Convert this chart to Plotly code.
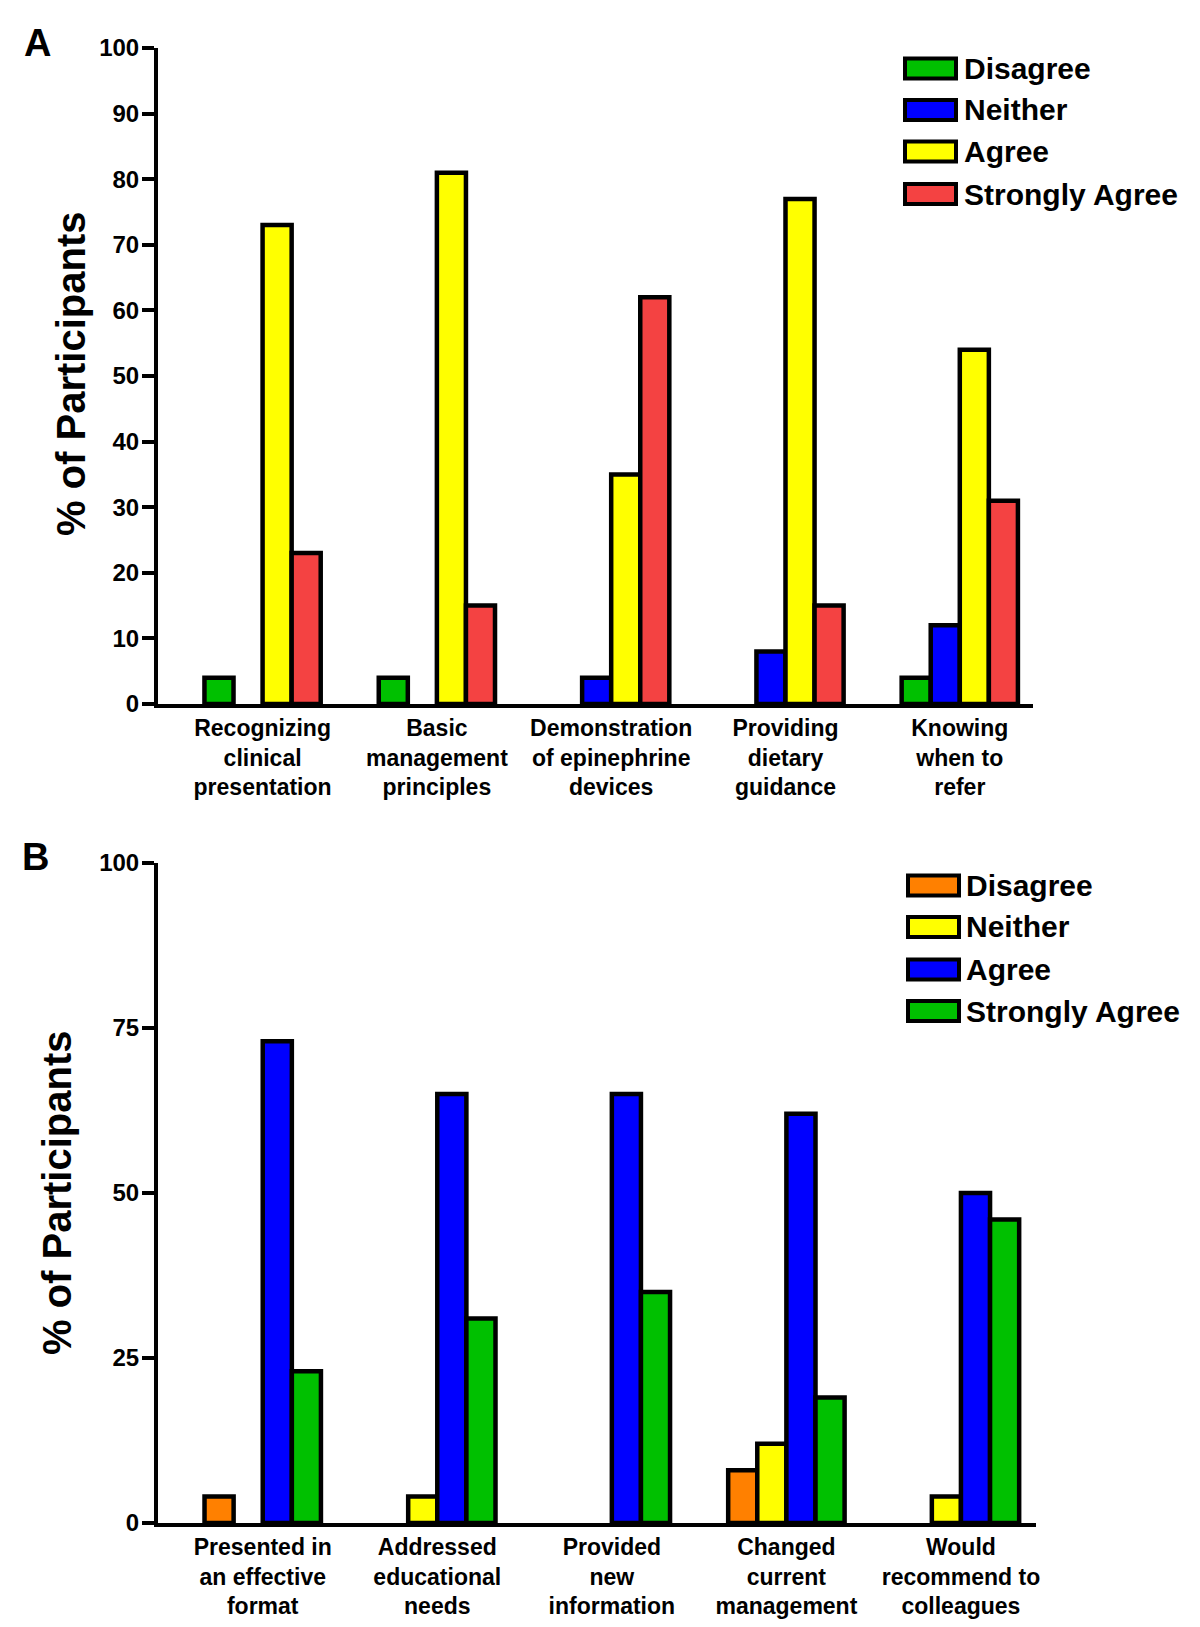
import plotly.graph_objects as go

# ---------------- data ----------------
cats_a = ["Recognizing<br>clinical<br>presentation", "Basic<br>management<br>principles",
          "Demonstration<br>of epinephrine<br>devices", "Providing<br>dietary<br>guidance",
          "Knowing<br>when to<br>refer"]
series_a = ["Disagree", "Neither", "Agree", "Strongly Agree"]
disagree_a = [4, 4, 0, 0, 4]
neither_a = [0, 0, 4, 8, 12]
agree_a = [73, 81, 35, 77, 54]
strongly_a = [23, 15, 62, 15, 31]
colors_a = ["#00C000", "#0000FF", "#FFFF00", "#F44242"]

cats_b = ["Presented in<br>an effective<br>format", "Addressed<br>educational<br>needs",
          "Provided<br>new<br>information", "Changed<br>current<br>management",
          "Would<br>recommend to<br>colleagues"]
series_b = ["Disagree", "Neither", "Agree", "Strongly Agree"]
disagree_b = [4, 0, 0, 8, 0]
neither_b = [0, 4, 0, 12, 4]
agree_b = [73, 65, 65, 62, 50]
strongly_b = [23, 31, 35, 19, 46]
colors_b = ["#FF8000", "#FFFF00", "#0000FF", "#00C000"]

yticks_a = [0, 10, 20, 30, 40, 50, 60, 70, 80, 90, 100]
yticks_b = [0, 25, 50, 75, 100]

# ---------------- figure ----------------
W, H = 1200, 1627
FONT = "Liberation Sans, Arial, sans-serif"


def px(x):
    return x / W


def py(y):
    return 1 - y / H


def nz(vals):
    # zero-height bars are not drawn in the reference
    return [v if v != 0 else None for v in vals]


fig = go.Figure()

vals_a = [disagree_a, neither_a, agree_a, strongly_a]
vals_b = [disagree_b, neither_b, agree_b, strongly_b]
for name, v, c in zip(series_a, vals_a, colors_a):
    fig.add_trace(go.Bar(x=list(range(len(cats_a))), y=nz(v), name=name, xaxis="x", yaxis="y",
                         marker=dict(color=c, line=dict(color="black", width=4.5)),
                         showlegend=False))
for name, v, c in zip(series_b, vals_b, colors_b):
    fig.add_trace(go.Bar(x=list(range(len(cats_b))), y=nz(v), name=name, xaxis="x2", yaxis="y2",
                         marker=dict(color=c, line=dict(color="black", width=4.5)),
                         showlegend=False))

xcommon = dict(showline=True, linecolor="black", linewidth=4, ticks="", showgrid=False,
               zeroline=False, tickmode="array", automargin=False,
               tickfont=dict(family=FONT, size=23, color="black", weight="bold"))
ycommon = dict(showline=True, linecolor="black", linewidth=4, ticks="outside", ticklen=12,
               tickwidth=4, tickcolor="black", showgrid=False, zeroline=False,
               range=[0, 100], tickmode="array", automargin=False, ticklabelstandoff=-2,
               tickfont=dict(family=FONT, size=24, color="black", weight="bold"))

fig.update_layout(
    width=W, height=H, margin=dict(l=0, r=0, t=0, b=0, autoexpand=False),
    paper_bgcolor="white", plot_bgcolor="white",
    barmode="group", bargap=0.333, bargroupgap=0,
    xaxis=dict(**xcommon, domain=[px(158), px(1033)], range=[-0.6, 4.42], anchor="y",
               tickvals=list(range(len(cats_a))), ticktext=cats_a),
    yaxis=dict(**ycommon, domain=[py(704), py(48)], anchor="x",
               tickvals=yticks_a, ticktext=[str(t) for t in yticks_a]),
    xaxis2=dict(**xcommon, domain=[px(158), px(1036)], range=[-0.6, 4.43], anchor="y2",
                tickvals=list(range(len(cats_b))), ticktext=cats_b),
    yaxis2=dict(**ycommon, domain=[py(1523), py(863)], anchor="x2",
                tickvals=yticks_b, ticktext=[str(t) for t in yticks_b]),
)

annotations = []
shapes = []


def text(t, x, y, size, angle=0, xanchor="center"):
    annotations.append(dict(text=t, x=px(x), y=py(y), xref="paper", yref="paper",
                            showarrow=False, textangle=angle, xanchor=xanchor, yanchor="middle",
                            font=dict(family=FONT, size=size, color="black", weight="bold")))


# panel letters
text("A", 37, 43, 38)
text("B", 35, 857, 38)
# y titles
text("% of Participants", 71, 374, 40, angle=-90)
text("% of Participants", 57, 1193, 40, angle=-90)


# manual legends
def legend(names, colors, x0, x1, ys, xt):
    for n, c, yc in zip(names, colors, ys):
        shapes.append(dict(type="rect", xref="paper", yref="paper",
                           x0=px(x0), x1=px(x1), y0=py(yc + 10), y1=py(yc - 10),
                           fillcolor=c, line=dict(color="black", width=4)))
        text(n, xt, yc, 30, xanchor="left")


legend(series_a, colors_a, 905, 956, [68.5, 110, 151.5, 194], 962)
legend(series_b, colors_b, 908, 959, [885.5, 927, 969.5, 1011], 964)

fig.update_layout(annotations=annotations, shapes=shapes)

fig.write_html("out.html", config={"displayModeBar": False},
               post_script="document.body.style.margin='0';")
